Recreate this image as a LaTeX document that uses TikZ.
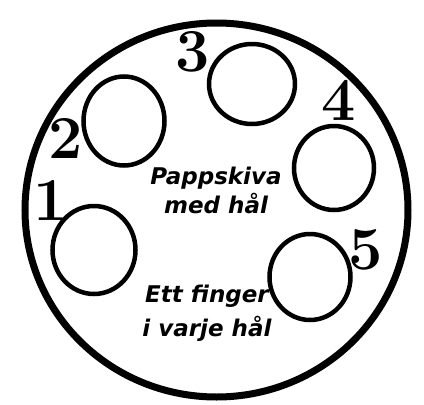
\documentclass[tikz,border=0pt]{standalone}
\usepackage{fontspec}
\newfontfamily\hand{DejaVu Sans}
\tikzset{
  hole/.style={draw, line width=4.5pt, ellipse, inner sep=0pt},
  num/.style={font=\fontsize{61}{61}\selectfont\bfseries, inner sep=0pt},
  note/.style={font=\hand\bfseries\itshape\fontsize{23}{29}\selectfont, align=center, inner sep=0pt},
}
\usetikzlibrary{shapes.geometric}
\begin{document}
\begin{tikzpicture}[x=1pt,y=-1pt]
\useasboundingbox[fill=white] (0,0) rectangle (424,405);
\node[draw, line width=7pt, ellipse, minimum width=383pt, minimum height=374pt, inner sep=0pt] (disc) at (216.5,210) {};
\node[hole, minimum width=83pt, minimum height=88pt] (h1) at (94,250) {};
\node[hole, minimum width=81pt, minimum height=89pt] (h2) at (124,121) {};
\node[hole, minimum width=86pt, minimum height=80pt] (h3) at (252,84) {};
\node[hole, minimum width=80pt, minimum height=84pt] (h4) at (334,168) {};
\node[hole, minimum width=81pt, minimum height=86pt] (h5) at (310,277) {};
\node[num] (n1) at (51,200) {1};
\node[num] (n2) at (66,138) {2};
\node[num] (n3) at (193,52) {3};
\node[num] (n4) at (339,100) {4};
\node[num] (n5) at (366,250) {5};
\node[note] (t1) at (216,190) {Pappskiva\\med hål};
\node[note, font=\hand\bfseries\itshape\fontsize{23}{34}\selectfont] (t2) at (207,313) {Ett finger\\i varje hål};
\end{tikzpicture}
\end{document}
